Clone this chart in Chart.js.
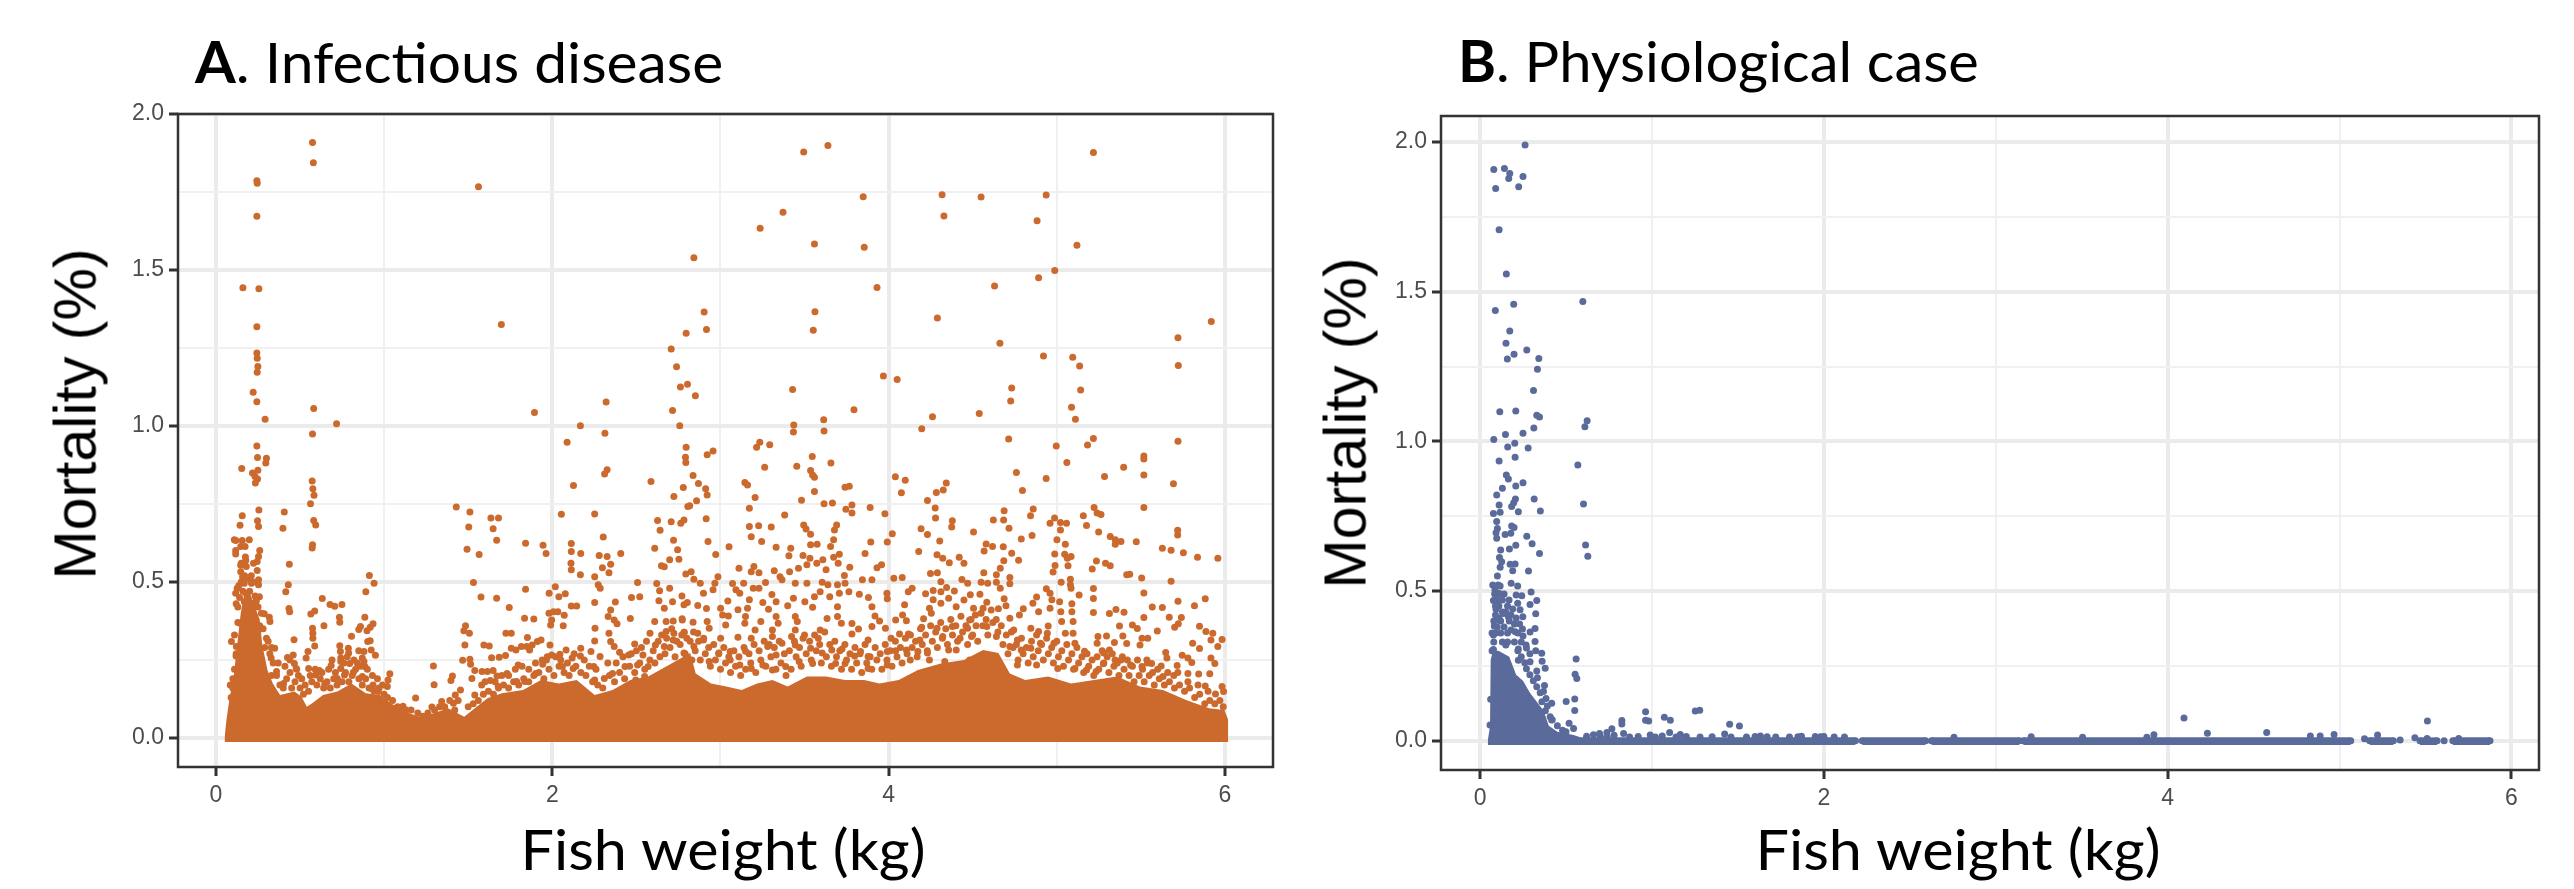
<!DOCTYPE html>
<html>
<head>
<meta charset="utf-8">
<title>Mortality vs fish weight</title>
<script src="https://cdn.jsdelivr.net/npm/chart.js@4"></script>
<style>
    html, body { margin: 0; padding: 0; background: #fff; }
    #page { position: relative; width: 2574px; height: 889px; overflow: hidden; }
    canvas { position: absolute; top: 0; }
    #chart-a { left: 0; }
    #chart-b { left: 1290px; }
    .panel-title, .x-title, .y-title { position: absolute; color: #000; white-space: nowrap; line-height: 1; }
    .panel-title { font-family: Lato, sans-serif; font-size: 57px; transform: scaleX(1.03); transform-origin: left center; }
    .x-title { font-family: Lato, sans-serif; font-size: 56px; transform: translateX(-50%) scaleX(1.06); }
    .y-title { font-family: "Liberation Sans", sans-serif; font-size: 59px; transform: translate(-50%, -50%) rotate(-90deg); }
</style>
</head>
<body>
<div id="page">
    <canvas id="chart-a" width="1290" height="889"></canvas>
    <canvas id="chart-b" width="1284" height="889"></canvas>
    <div class="panel-title" style="left:195px;top:33px"><b>A</b>. Infectious disease</div>
    <div class="panel-title" style="left:1458px;top:32px;transform:scaleX(1.015)"><b>B</b>. Physiological case</div>
    <div class="y-title" style="left:76px;top:414px">Mortality (%)</div>
    <div class="y-title" style="left:1346px;top:423px">Mortality (%)</div>
    <div class="x-title" style="left:723px;top:821px">Fish weight (kg)</div>
    <div class="x-title" style="left:1958px;top:821px">Fish weight (kg)</div>
</div>
<script>
const weightTicks = [0, 1, 2, 3, 4, 5, 6];
const weightLabels = [0, 2, 4, 6];
const mortalityTicks = [0, 0.25, 0.5, 0.75, 1, 1.25, 1.5, 1.75, 2];
const mortalityLabels = [0, 0.5, 1, 1.5, 2];

// solid part of panel A, where the dots merge: top edge read along the weight axis
const infectiousBandWeight = [0.051, 0.062, 0.079, 0.105, 0.126, 0.147, 0.168, 0.19, 0.211, 0.232, 0.26, 0.275, 0.306, 0.338, 0.381, 0.466, 0.508, 0.54, 0.572, 0.636, 0.721, 0.806, 0.891, 0.976, 1.04, 1.125, 1.21, 1.295, 1.38, 1.476, 1.55, 1.614, 1.7, 1.826, 1.933, 2.039, 2.145, 2.252, 2.358, 2.464, 2.57, 2.677, 2.82, 2.853, 2.944, 3.035, 3.126, 3.218, 3.309, 3.4, 3.514, 3.628, 3.741, 3.855, 3.946, 4.06, 4.174, 4.311, 4.448, 4.562, 4.653, 4.721, 4.812, 4.949, 5.085, 5.222, 5.359, 5.495, 5.632, 5.769, 5.906, 5.997, 6.02, 6.02];
const infectiousBandTop = [0, 0.058, 0.122, 0.197, 0.3, 0.4, 0.46, 0.48, 0.45, 0.42, 0.38, 0.3, 0.218, 0.175, 0.138, 0.149, 0.133, 0.1, 0.111, 0.138, 0.149, 0.175, 0.143, 0.138, 0.111, 0.084, 0.068, 0.079, 0.095, 0.068, 0.1, 0.127, 0.143, 0.154, 0.186, 0.175, 0.186, 0.138, 0.154, 0.186, 0.197, 0.229, 0.272, 0.207, 0.175, 0.165, 0.154, 0.175, 0.186, 0.165, 0.197, 0.197, 0.186, 0.186, 0.175, 0.186, 0.218, 0.239, 0.25, 0.282, 0.272, 0.207, 0.186, 0.197, 0.175, 0.186, 0.197, 0.165, 0.154, 0.122, 0.095, 0.09, 0.058, -0.006];

// solid part of panel B, null = gap in the baseline
const physiologicalBandWeight = [0.045, 0.058, 0.062, 0.075, 0.107, 0.17, 0.21, 0.25, 0.29, 0.33, 0.37, 0.4, 0.45, 0.544, 0.583, 1, 2.184, 2.2, 2.223, 2.592, 2.61, 2.626, 3.137, 3.15, 3.16, 5.065, 5.1, 5.175, 5.313, 5.33, 5.468, 5.567, 5.6, 5.659, 5.875];
const physiologicalBandTop = [0, 0.047, 0.27, 0.3, 0.3, 0.28, 0.22, 0.2, 0.16, 0.13, 0.1, 0.05, 0.03, 0.019, 0.011, 0.011, 0.011, null, 0.011, 0.011, null, 0.011, 0.011, null, 0.011, 0.011, null, 0.011, 0.011, null, 0.011, 0.011, null, 0.011, 0.011];

const infectiousPoints = [
    [0.574,1.909],[0.579,1.844],[0.243,1.786],[0.245,1.778],[0.243,1.672],[1.561,1.767],[0.16,1.443],[0.255,1.44],[0.243,1.318],[1.697,1.325],
    [0.243,1.234],[0.245,1.217],[0.249,1.191],[0.245,1.172],[0.221,1.108],[0.243,1.078],[0.581,1.056],[0.292,1.022],[1.894,1.043],[2.32,1.077],
    [2.715,1.05],[2.796,1.297],[2.707,1.247],[2.739,1.19],[2.762,1.125],[2.804,1.134],
    [3.495,1.878],[3.639,1.899],[5.218,1.877],[3.849,1.735],[3.372,1.685],[3.236,1.634],[3.559,1.583],[3.855,1.573],[2.842,1.539],[4.318,1.741],
    [4.55,1.734],[4.937,1.74],[4.329,1.673],[4.883,1.658],[5.12,1.579],[4.988,1.498],[4.892,1.475],[4.63,1.449],[3.931,1.444],[3.562,1.366],
    [2.903,1.365],[2.917,1.309],[3.552,1.307],[4.29,1.346],[5.919,1.335],[5.721,1.283],[4.662,1.265],[4.921,1.224],[5.095,1.22],[5.136,1.192],
    [5.723,1.194],[3.969,1.16],[4.051,1.149],[3.429,1.117],[4.732,1.122],[5.142,1.115],[2.851,1.097],[4.726,1.08],[5.088,1.06],[3.794,1.052],
    [4.539,1.04],[4.261,1.03],[3.614,1.02],[5.111,1.022],
    [0.717,1.007],[0.574,0.974],[0.243,0.936],[0.247,0.899],[0.3,0.897],[0.296,0.881],[0.153,0.864],[0.249,0.858],[0.217,0.849],[0.232,0.838],
    [0.247,0.83],[0.234,0.817],[0.572,0.824],[0.576,0.799],[0.583,0.778],[0.562,0.751],[0.255,0.731],[0.406,0.724],[0.156,0.712],[0.247,0.696],
    [0.143,0.682],[0.253,0.678],[0.398,0.672],[0.581,0.697],[0.593,0.683],[0.574,0.619],[0.572,0.609],[0.109,0.635],[0.118,0.633],[0.156,0.633],
    [0.198,0.635],[0.147,0.614],[0.173,0.614],[0.117,0.601],[0.117,0.59],[0.26,0.601],[0.253,0.582],[0.177,0.569],[0.223,0.56],[0.245,0.566],
    [0.436,0.557],[0.147,0.554],[0.147,0.533],[0.158,0.517],[0.168,0.496],[0.136,0.489],[0.211,0.496],[0.253,0.507],[0.253,0.491],[0.245,0.537],
    [0.43,0.491],[0.415,0.469],[0.117,0.464],[0.126,0.48],[0.179,0.464],[0.232,0.455],[0.258,0.453],[0.168,0.437],[0.221,0.432],[0.236,0.427],
    [0.434,0.415],[0.438,0.405],[0.287,0.398],[0.317,0.387],[0.321,0.373],[0.221,0.395],[0.189,0.379],[0.143,0.368],[0.253,0.346],[0.211,0.336],
    [0.092,0.309],[0.464,0.315],[0.349,0.288],[0.328,0.256],[0.121,0.293],[0.119,0.263],[0.425,0.258],[0.459,0.266],[0.466,0.239],[0.477,0.223],
    [0.36,0.213],[0.402,0.175],[0.912,0.521],[0.94,0.496],[0.891,0.469],[0.632,0.447],[0.678,0.428],[0.706,0.422],[0.749,0.428],[0.587,0.407],
    [0.564,0.397],[0.885,0.387],[0.734,0.387],[0.736,0.371],[0.642,0.36],[0.934,0.366],[0.917,0.355],[0.898,0.344],[0.859,0.357],[0.849,0.348],
    [0.574,0.352],[0.576,0.336],[0.576,0.32],[0.587,0.295],[0.806,0.326],[0.917,0.312],[0.902,0.309],[0.736,0.296],[0.787,0.288],[0.74,0.277],
    [0.789,0.272],[0.742,0.256],[0.849,0.28],[0.88,0.277],[0.923,0.282],[0.948,0.265],[0.87,0.256],[0.88,0.245],[0.885,0.229],[0.795,0.239],
    [0.742,0.245],[0.547,0.277],[0.536,0.256],[0.551,0.223],[0.685,0.232],[0.742,0.223],[0.615,0.216],[0.593,0.202],[0.817,0.211],[0.87,0.197],
    [0.764,0.202],[0.721,0.191],[0.647,0.175],[0.934,0.17],[0.923,0.159],[1.034,0.206],[1.023,0.186],[1.019,0.165],[0.965,0.149],[0.53,0.17],
    [1.293,0.231],[1.297,0.171],[1.187,0.128],[1.112,0.102],[1.284,0.099],[1.342,0.117],[1.406,0.199],[1.397,0.184],[1.454,0.154],[1.423,0.138],
    [1.412,0.111],[1.539,0.138],[1.429,0.74],[1.51,0.724],[1.503,0.676],[1.635,0.705],[1.68,0.705],[1.648,0.671],[1.669,0.634],[1.493,0.605],
    [1.565,0.588],[1.531,0.498],[1.576,0.452],[1.669,0.448],[1.744,0.418],[1.841,0.624],[1.945,0.618],[1.963,0.591],[1.841,0.477],[1.835,0.384],
    [1.89,0.381],[1.484,0.36],[1.474,0.344],[1.507,0.336],[1.48,0.298],[1.467,0.249],[1.51,0.252],[1.514,0.236],[1.539,0.216],[1.522,0.191],
    [1.582,0.213],[1.614,0.213],[1.648,0.216],[1.671,0.199],[1.631,0.184],[1.678,0.165],[1.724,0.336],[1.756,0.336],[1.852,0.322],[1.593,0.298],
    [1.625,0.295],[1.639,0.257],[1.684,0.259],[1.722,0.264],[1.756,0.288],[1.784,0.282],[1.816,0.293],[1.848,0.293],[1.865,0.282],[1.88,0.298],
    [1.911,0.309],[1.933,0.314],[1.797,0.234],[1.731,0.207],[1.788,0.181],[1.837,0.181],[1.901,0.207],[1.943,0.236],[1.981,0.464],[2.018,0.485],
    [2.039,0.453],[2.077,0.462],[2.113,0.423],[2.145,0.423],[2.167,0.523],[2.113,0.539],[2.111,0.56],[2.169,0.591],[2.113,0.598],[2.113,0.623],
    [2.054,0.717],[2.252,0.718],[2.303,0.644],[2.126,0.809],[2.088,0.948],[2.167,1.001],[2.313,0.977],[2.326,0.86],[2.311,0.846],[2.587,0.822],
    [2.779,0.803],[2.758,1.001],[2.796,0.932],[2.792,0.9],[2.794,0.883],[2.723,0.774],[2.806,0.742],[2.626,0.697],[2.707,0.693],[2.641,0.666],
    [2.764,0.688],[2.783,0.699],[2.721,0.634],[2.609,0.608],[2.745,0.603],[2.698,0.571],[2.753,0.573],[2.649,0.552],[2.666,0.549],[2.279,0.585],
    [2.326,0.582],[2.347,0.557],[2.298,0.546],[2.337,0.53],[2.407,0.591],[2.252,0.517],[2.273,0.491],[2.285,0.48],[2.252,0.434],[2.507,0.498],
    [2.621,0.495],[2.638,0.472],[2.698,0.48],[2.471,0.45],[2.52,0.453],[2.634,0.44],[2.375,0.436],[2.715,0.437],[2.783,0.427],[2.347,0.41],
    [2.666,0.416],[2.332,0.389],[2.368,0.378],[2.385,0.366],[2.464,0.383],[2.609,0.373],[2.677,0.373],[2.719,0.375],[2.772,0.382],[2.007,0.405],
    [2.033,0.405],[1.98,0.4],[2.071,0.393],[1.996,0.378],[1.99,0.362],[2.065,0.36],[2.254,0.352],[2.337,0.336],[1.986,0.298],[2.252,0.311],
    [2.347,0.309],[2.581,0.336],[2.677,0.341],[2.723,0.336],[2.783,0.339],[2.082,0.282],[2.169,0.288],[1.996,0.266],[1.965,0.25],[2.045,0.268],
    [2.118,0.256],[2.167,0.263],[2.23,0.277],[2.284,0.261],[2.368,0.293],[2.4,0.275],[2.454,0.266],[2.49,0.301],[2.539,0.266],[2.613,0.298],
    [2.666,0.293],[2.719,0.314],[2.783,0.272],[2.06,0.229],[2.124,0.223],[2.247,0.229],[2.252,0.186],[2.309,0.191],[2.358,0.207],[2.432,0.229],
    [2.507,0.234],[2.57,0.229],[2.496,0.186],[2.549,0.197],
    [3.436,1.003],[3.434,0.981],[3.616,0.984],[4.197,0.991],[4.714,0.958],[4.997,0.936],[5.183,0.939],[5.218,0.96],[5.721,0.951],[3.234,0.948],
    [3.215,0.932],[3.293,0.94],[2.956,0.92],[2.921,0.908],[5.518,0.904],[5.518,0.894],[3.546,0.902],[3.657,0.881],[5.06,0.883],[3.454,0.871],
    [3.263,0.868],[5.398,0.868],[3.536,0.857],[3.548,0.843],[3.559,0.836],[4.76,0.851],[5.518,0.843],[5.284,0.838],[2.837,0.841],[4.04,0.837],
    [4.099,0.826],[4.937,0.832],[3.145,0.819],[3.161,0.811],[4.343,0.817],[5.694,0.815],[2.869,0.816],[2.912,0.799],[2.921,0.779],[4.796,0.793],
    [4.325,0.795],[4.284,0.787],[4.076,0.786],[3.559,0.79],[3.741,0.804],[3.766,0.807],[3.206,0.771],[2.858,0.76],[3.482,0.762],[4.231,0.761],
    [2.817,0.744],[3.616,0.751],[3.666,0.753],[3.782,0.747],[3.172,0.736],[3.89,0.739],[3.746,0.733],[3.782,0.721],[3.978,0.719],[4.277,0.737],
    [4.687,0.728],[4.86,0.734],[5.518,0.739],[5.222,0.739],[5.24,0.721],[5.263,0.716],[3.382,0.715],[2.915,0.703],[4.279,0.705],[4.623,0.699],
    [4.844,0.712],[4.684,0.699],[4.987,0.705],[5.158,0.712],[4.379,0.696],[4.375,0.676],[3.172,0.678],[3.227,0.68],[3.302,0.676],[3.495,0.683],
    [3.509,0.67],[3.691,0.683],[3.678,0.667],[4.193,0.671],[4.716,0.672],[5.022,0.691],[5.022,0.667],[5.058,0.688],[4.96,0.688],[5.177,0.681],
    [5.719,0.666],[5.719,0.651],[5.249,0.66],[4.505,0.66],[4.022,0.655],[4.231,0.652],[3.183,0.645],[4.853,0.649],[4.789,0.638],[5.001,0.635],
    [3.536,0.653],[3.673,0.635],[2.926,0.63],[3.245,0.63],[4.304,0.631],[3.894,0.628],[3.992,0.628],[5.318,0.646],[5.348,0.635],[5.382,0.63],
    [5.473,0.629],[5.348,0.621],[3.575,0.621],[4.58,0.622],[4.618,0.614],[4.682,0.613],[5.051,0.621],[3.051,0.613],[3.331,0.611],[3.418,0.608],
    [3.655,0.614],[3.536,0.619],[5.628,0.608],[5.68,0.602],[5.753,0.594],[5.837,0.579],[5.958,0.576],[4.179,0.598],[4.568,0.599],[4.732,0.592],
    [4.988,0.59],[3.86,0.591],[2.972,0.588],[4.288,0.587],[5.047,0.589],[5.085,0.582],[3.407,0.584],[3.491,0.585],[3.532,0.576],[3.707,0.589],
    [3.673,0.579],[4.322,0.576],[4.42,0.579],[4.361,0.562],[4.448,0.56],[4.685,0.568],[4.773,0.57],[5.063,0.576],[5.236,0.567],[5.29,0.56],
    [5.318,0.552],[3.609,0.571],[3.573,0.56],[3.514,0.555],[3.7,0.56],[3.958,0.555],[3.931,0.546],[3.769,0.547],[3.11,0.544],[3.199,0.55],
    [3.464,0.544],[4.99,0.553],[5.067,0.552],[5.211,0.542],[4.978,0.532],[3.183,0.533],[3.229,0.53],[3.32,0.536],[3.411,0.533],[3.628,0.539],
    [4.566,0.53],[4.664,0.544],[2.826,0.533],[2.794,0.526],[4.249,0.527],[4.29,0.53],[4.641,0.523],[4.721,0.514],[5.416,0.523],[5.434,0.525],
    [5.505,0.513],[3.737,0.521],[3.354,0.517],[2.842,0.509],[2.985,0.517],[4.031,0.512],[4.081,0.514],[4.436,0.508],[3.844,0.507],[3.901,0.507],
    [4.311,0.501],[5.081,0.509],[5.68,0.502],[4.47,0.496],[4.55,0.499],[4.589,0.496],[4.641,0.499],[5.026,0.499],[5.081,0.491],[2.88,0.496],
    [3.072,0.495],[3.138,0.496],[3.268,0.498],[3.445,0.496],[3.605,0.499],[3.741,0.496],[2.967,0.496],[3.366,0.507],[3.514,0.496],[3.639,0.491],
    [3.696,0.491],[3.195,0.48],[3.092,0.475],[3.229,0.48],[4.664,0.48],[4.721,0.494],[5.218,0.479],[4.938,0.478],[4.14,0.48],[4.117,0.469],
    [4.265,0.473],[4.345,0.482],[4.311,0.469],[4.22,0.462],[5.085,0.48],[5.518,0.465],[2.899,0.464],[2.956,0.475],[3.115,0.464],[3.306,0.46],
    [3.434,0.448],[3.559,0.453],[3.593,0.469],[3.65,0.453],[3.707,0.464],[3.764,0.469],[3.826,0.461],[3.88,0.45],[3.99,0.464],[3.992,0.446],
    [4.486,0.459],[4.543,0.461],[4.391,0.471],[4.357,0.448],[4.265,0.443],[4.448,0.442],[4.687,0.446],[4.88,0.452],[4.96,0.464],[4.971,0.443],
    [5.133,0.458],[5.218,0.447],[2.771,0.455],[2.803,0.434],[3.044,0.439],[3.172,0.443],[3.252,0.434],[3.331,0.437],[3.502,0.437],[3.696,0.421],
    [2.865,0.425],[2.917,0.415],[3.001,0.416],[3.104,0.411],[3.161,0.416],[3.286,0.413],[3.4,0.424],[3.548,0.419],[3.901,0.421],[4.095,0.427],
    [4.311,0.432],[4.584,0.435],[4.698,0.424],[4.402,0.421],[4.505,0.416],[4.562,0.416],[4.243,0.416],[4.801,0.414],[4.858,0.432],[5.017,0.437],
    [5.09,0.43],[5.352,0.412],[5.4,0.403],[5.313,0.399],[5.218,0.402],[5.568,0.42],[5.628,0.418],[5.721,0.438],[5.819,0.424],[5.883,0.446],
    [4.892,0.405],[4.96,0.416],[5.024,0.405],[5.09,0.405],[4.653,0.414],[4.778,0.394],[4.254,0.4],[4.516,0.394],[4.083,0.394],[3.047,0.391],
    [3.013,0.394],[3.149,0.389],[3.331,0.389],[3.445,0.389],[3.634,0.383],[3.696,0.389],[3.919,0.391],[2.837,0.371],[2.773,0.378],[2.921,0.373],
    [3.145,0.368],[3.24,0.373],[3.343,0.368],[3.457,0.373],[3.719,0.368],[3.946,0.375],[4.042,0.378],[4.106,0.376],[4.208,0.382],[4.482,0.378],
    [4.721,0.384],[5.029,0.373],[5.097,0.373],[5.518,0.386],[5.669,0.387],[5.741,0.386],[3.031,0.362],[3.782,0.367],[5.45,0.362],[5.373,0.359],
    [5.723,0.366],[5.701,0.355],[5.849,0.358],[5.479,0.351],[5.598,0.343],[5.887,0.341],[5.928,0.336],[2.933,0.352],[3.309,0.346],[3.445,0.346],
    [3.593,0.346],[3.821,0.349],[3.782,0.333],[3.901,0.357],[3.981,0.352],[4.197,0.355],[4.288,0.352],[4.379,0.357],[4.47,0.352],[4.584,0.357],
    [4.744,0.346],[4.846,0.352],[4.949,0.359],[4.892,0.341],[5.051,0.336],[5.097,0.336],[2.785,0.339],[2.865,0.336],[3.206,0.346],[3.104,0.323],
    [3.183,0.32],[2.899,0.314],[3.001,0.32],[3.309,0.325],[3.423,0.325],[3.491,0.32],[3.582,0.32],[3.878,0.314],[4.015,0.32],[4.065,0.333],
    [4.118,0.333],[4.186,0.314],[4.322,0.325],[4.425,0.32],[4.493,0.325],[4.641,0.325],[4.766,0.314],[4.944,0.336],[5.245,0.325],[5.296,0.327],
    [5.393,0.327],[5.507,0.32],[5.541,0.32],[5.917,0.314],[5.983,0.316],[3.281,0.293],[3.366,0.304],[3.445,0.298],[2.842,0.293],[5.24,0.304],
    [5.343,0.306],[5.416,0.303],[5.495,0.298],[5.808,0.304],[5.958,0.293],[5.108,0.304],[4.903,0.304],[4.983,0.304],[4.721,0.293],[3.149,0.278],
    [3.331,0.266],[3.536,0.288],[3.662,0.282],[3.723,0.285],[3.833,0.277],[3.798,0.263],[3.878,0.261],[3.992,0.277],[4.042,0.28],[4.106,0.282],
    [4.174,0.277],[4.231,0.272],[4.357,0.282],[4.402,0.282],[4.789,0.282],[4.846,0.288],[5.165,0.278],[5.313,0.282],[5.279,0.272],[5.849,0.287],
    [5.648,0.274],[3.058,0.277],[2.99,0.272],[5.347,0.25],[5.382,0.25],[5.655,0.256],[5.746,0.265],[5.78,0.256],[5.277,0.238],[5.917,0.256],
    [5.94,0.239],[5.536,0.25],[5.507,0.229],[5.439,0.234],[5.564,0.239],[5.621,0.231],[5.716,0.232],[5.803,0.242],[5.844,0.205],[5.91,0.206],
    [5.78,0.207],[5.696,0.2],[5.632,0.197],[5.883,0.167],[5.983,0.165],[5.992,0.149],[5.944,0.141],
    [2.83,0.25],[2.933,0.245],[3.058,0.25],[3.115,0.234],[3.183,0.223],[3.252,0.234],[3.309,0.218],[3.388,0.229],[3.468,0.245],[3.548,0.239],
    [3.605,0.272],[3.685,0.239],[3.741,0.239],[3.878,0.223],[3.992,0.234],[4.129,0.25],[4.243,0.25],[4.334,0.245],[4.482,0.25],[4.619,0.239],
    [4.766,0.234],[4.88,0.234],[5.006,0.223],[5.108,0.223],[5.177,0.218],[5.234,0.213]
];

// dots crowding just above the solid part of panel A
const infectiousEdgePoints = [
    [0.13,0.42],[0.14,0.45],[0.15,0.5],[0.16,0.47],[0.17,0.52],[0.18,0.55],[0.15,0.56],[0.19,0.44],[0.2,0.47],[0.21,0.52],[0.22,0.5],[0.19,0.51],
    [0.175,0.58],[0.16,0.56],[0.24,0.44],[0.25,0.42],[0.27,0.4],[0.26,0.36],[0.28,0.35],[0.3,0.32],[0.12,0.43],[0.11,0.33],[0.13,0.37],[0.29,0.29],
    [0.31,0.31],[0.32,0.27],[0.34,0.24],[0.33,0.2],[0.36,0.2],[0.38,0.17],[0.12,0.27],[0.11,0.22],[0.1,0.19],[0.1,0.16],[0.09,0.13],[0.085,0.17],
    [0.4,0.16],[0.42,0.19],[0.44,0.21],[0.45,0.16],[0.47,0.18],[0.49,0.2],[0.5,0.16],[0.52,0.14],[0.55,0.15],[0.57,0.18],[0.6,0.17],[0.62,0.19],
    [0.64,0.16],[0.66,0.18],[0.68,0.16],[0.7,0.19],[0.72,0.17],[0.75,0.18],[0.77,0.21],[0.79,0.18],[0.81,0.2],[0.83,0.22],[0.85,0.19],[0.87,0.17],
    [0.89,0.19],[0.91,0.16],[0.94,0.15],[0.97,0.16],[1,0.14],[1.02,0.13],[1.05,0.12],[1.08,0.1],[1.1,0.09],[1.13,0.09],[1.16,0.09],[1.2,0.08],
    [1.23,0.07],[1.26,0.08],[1.3,0.09],[1.33,0.1],[1.36,0.1],[1.39,0.12],[1.42,0.09],[1.5,0.1],[1.53,0.11],[1.56,0.12],[1.59,0.14],[1.62,0.15],
    [1.65,0.14],[1.68,0.16],[1.71,0.17],[1.74,0.16],[1.77,0.18],[1.8,0.17],[1.83,0.19],[1.86,0.18],[1.89,0.2],[1.92,0.21],[1.95,0.19],[1.98,0.22],
    [2.01,0.2],[2.04,0.23],[2.07,0.21],[2.1,0.2],[2.14,0.23],[2.17,0.21],[2.2,0.2],[2.24,0.18],[2.27,0.17],[2.3,0.16],[2.34,0.2],[2.37,0.18],
    [2.4,0.21],[2.43,0.19],[2.46,0.23],[2.49,0.21],[2.52,0.24],[2.55,0.22],[2.58,0.25],[2.61,0.24],[2.64,0.26],[2.67,0.27],[2.7,0.29],[2.73,0.26],
    [2.76,0.3],[2.79,0.27],[2.82,0.31],[2.85,0.28],[2.88,0.25],[2.91,0.27],[2.94,0.23],[2.97,0.25],[3,0.22],[3.03,0.24],[3.06,0.21],[3.09,0.23],
    [3.12,0.2],[3.15,0.22],[3.18,0.24],[3.21,0.21],[3.24,0.25],[3.27,0.23],[3.3,0.26],[3.33,0.22],[3.36,0.24],[3.39,0.2],[3.42,0.22],[3.45,0.26],
    [3.48,0.23],[3.51,0.27],[3.54,0.25],[3.57,0.28],[3.6,0.24],[3.63,0.26],[3.66,0.23],[3.69,0.26],[3.72,0.22],[3.75,0.25],[3.78,0.22],[3.81,0.24],
    [3.84,0.21],[3.87,0.24],[3.9,0.22],[3.93,0.25],[3.96,0.22],[3.99,0.25],[4.02,0.23],[4.05,0.26],[4.08,0.24],[4.11,0.27],[4.14,0.29],[4.17,0.26],
    [4.2,0.3],[4.23,0.28],[4.26,0.31],[4.29,0.29],[4.32,0.32],[4.35,0.3],[4.38,0.33],[4.41,0.31],[4.44,0.34],[4.47,0.3],[4.5,0.33],[4.53,0.31],
    [4.56,0.36],[4.59,0.33],[4.62,0.37],[4.65,0.34],[4.68,0.3],[4.71,0.27],[4.74,0.29],[4.77,0.25],[4.8,0.27],[4.83,0.24],[4.86,0.26],[4.89,0.28],
    [4.92,0.25],[4.95,0.27],[4.98,0.24],[5.01,0.26],[5.04,0.23],[5.07,0.25],[5.1,0.22],[5.13,0.24],[5.16,0.21],[5.19,0.23],[5.22,0.2],[5.25,0.22],
    [5.28,0.24],[5.31,0.21],[5.34,0.23],[5.37,0.2],[5.4,0.22],[5.43,0.2],[5.46,0.18],[5.49,0.2],[5.52,0.18],[5.55,0.2],[5.58,0.17],[5.61,0.19],
    [5.64,0.17],[5.67,0.18],[5.7,0.16],[5.73,0.17],[5.76,0.15],[5.79,0.16],[5.82,0.13],[5.85,0.14],[5.88,0.11],[5.91,0.12],[5.94,0.11],[5.97,0.12],[5.99,0.1],
    [0.33,0.29],[0.37,0.24],[0.41,0.23],[0.44,0.25],[0.48,0.22],[0.51,0.19],[0.56,0.2],[0.59,0.22],[0.63,0.21],[0.67,0.22],[0.69,0.25],[0.71,0.21],
    [0.76,0.24],[0.78,0.26],[0.82,0.25],[0.84,0.24],[0.86,0.23],[0.9,0.22],[0.93,0.2],[0.96,0.19],[0.99,0.17],[1.44,0.12],[1.58,0.17],[1.6,0.18],
    [1.66,0.18],[1.7,0.2],[1.74,0.2],[1.78,0.22],[1.82,0.23],[1.86,0.22],[1.9,0.24],[1.94,0.25],[1.97,0.26],[2.02,0.26],[2.05,0.25],[2.09,0.24],
    [2.13,0.27],[2.19,0.25],[2.22,0.23],[2.26,0.22],[2.33,0.24],[2.38,0.24],[2.42,0.26],[2.47,0.27],[2.5,0.28],[2.53,0.29],[2.56,0.31],[2.6,0.28],
    [2.63,0.31],[2.65,0.33],[2.68,0.32],[2.71,0.35],[2.74,0.31],[2.77,0.33],[2.8,0.32],[2.84,0.34],[2.87,0.31],[2.9,0.32],[2.93,0.29],[2.96,0.3],
    [2.99,0.27],[3.02,0.29],[3.05,0.26],[3.08,0.28],[3.11,0.26],[3.14,0.29],[3.17,0.27],[3.2,0.3],[3.23,0.28],[3.26,0.31],[3.29,0.3],[3.32,0.29],
    [3.35,0.31],[3.38,0.27],[3.41,0.28],[3.44,0.31],[3.47,0.29],[3.5,0.33],[3.53,0.31],[3.56,0.33],[3.59,0.3],[3.62,0.34],[3.65,0.3],[3.68,0.31],
    [3.71,0.28],[3.74,0.3],[3.77,0.27],[3.8,0.29],[3.83,0.27],[3.86,0.3],[3.89,0.26],[3.92,0.29],[3.95,0.27],[3.98,0.3],[4.01,0.28],[4.04,0.31],
    [4.07,0.29],[4.1,0.32],[4.13,0.33],[4.16,0.31],[4.19,0.35],[4.22,0.33],[4.25,0.36],[4.28,0.34],[4.31,0.37],[4.34,0.35],[4.37,0.38],[4.4,0.36],
    [4.43,0.39],[4.46,0.36],[4.49,0.38],[4.52,0.36],[4.55,0.4],[4.58,0.38],[4.61,0.41],[4.64,0.38],[4.67,0.36],[4.7,0.33],[4.73,0.34],[4.76,0.3],
    [4.79,0.32],[4.82,0.29],[4.85,0.31],[4.88,0.33],[4.91,0.3],[4.94,0.32],[4.97,0.29],[5,0.31],[5.03,0.28],[5.06,0.3],[5.09,0.27],[5.12,0.29],
    [5.15,0.26],[5.18,0.27],[5.21,0.25],[5.24,0.26],[5.27,0.28],[5.3,0.26],[5.33,0.27],[5.36,0.24],[5.39,0.26],[5.42,0.25],[5.45,0.23],[5.48,0.25],
    [5.51,0.22],[5.54,0.24],[5.57,0.21],[5.6,0.22],[5.66,0.21],[5.72,0.21],[5.78,0.18],[5.84,0.17],[5.9,0.15]
];

const physiologicalPoints = [
    [0.262,1.99],[0.08,1.908],[0.142,1.912],[0.173,1.895],[0.167,1.878],[0.25,1.885],[0.091,1.845],[0.225,1.851],[0.111,1.707],[0.153,1.559],
    [0.598,1.467],[0.196,1.458],[0.089,1.437],[0.173,1.369],[0.151,1.328],[0.272,1.305],[0.198,1.291],[0.159,1.275],[0.342,1.277],[0.334,1.241],
    [0.311,1.17],[0.115,1.099],[0.208,1.101],[0.33,1.087],[0.346,1.081],[0.623,1.069],[0.61,1.049],[0.313,1.045],[0.25,1.027],[0.148,1.023],
    [0.08,1.006],[0.202,0.994],[0.161,0.981],[0.28,0.978],[0.204,0.947],[0.111,0.934],
    [0.569,0.921],[0.153,0.888],[0.165,0.874],[0.25,0.862],[0.208,0.851],[0.13,0.843],[0.097,0.821],[0.315,0.807],[0.206,0.807],[0.196,0.795],
    [0.111,0.787],[0.602,0.791],[0.184,0.782],[0.223,0.765],[0.351,0.767],[0.078,0.759],[0.117,0.763],[0.097,0.732],[0.101,0.709],[0.184,0.717],
    [0.198,0.712],[0.093,0.695],[0.146,0.689],[0.179,0.693],[0.272,0.683],[0.097,0.676],[0.303,0.658],[0.614,0.654],[0.208,0.653],[0.12,0.637],
    [0.171,0.64],[0.346,0.625],[0.627,0.616],[0.113,0.612],[0.126,0.598],[0.175,0.589],[0.204,0.59],[0.117,0.579],[0.19,0.568],[0.282,0.567],
    [0.101,0.55],[0.074,0.52],[0.117,0.517],[0.181,0.526],[0.219,0.517],[0.087,0.503],[0.109,0.492],[0.297,0.497],[0.21,0.487],[0.243,0.484],
    [0.078,0.468],[0.169,0.47],[0.33,0.468],[0.219,0.459],[0.291,0.455],[0.093,0.439],[0.233,0.437],[0.324,0.424],[0.136,0.425],[0.249,0.414],
    [0.165,0.414],[0.107,0.403],[0.083,0.383],[0.32,0.375],[0.247,0.373],[0.291,0.363],[0.205,0.364],[0.078,0.353],[0.32,0.331],[0.268,0.32],
    [0.223,0.306],[0.078,0.305],[0.324,0.3],[0.359,0.292],[0.559,0.273],[0.361,0.265],[0.223,0.269],[0.291,0.264],[0.379,0.242],[0.33,0.233],
    [0.553,0.222],[0.563,0.208],[0.334,0.21],[0.375,0.184],[0.369,0.164],[0.501,0.131],[0.551,0.139],[0.551,0.101],[0.384,0.141],[0.417,0.125],
    [0.392,0.116],[0.963,0.097],[1.072,0.078],[1.107,0.068],[0.963,0.068],[0.981,0.066],[1.252,0.099],[1.278,0.102],[0.825,0.067],[0.825,0.056],
    [0.408,0.08],[0.417,0.069],[0.518,0.058],[0.544,0.041],[1.452,0.055],[1.509,0.049],[1.423,0.022],[0.767,0.04],[0.738,0.027],[0.695,0.024],
    [0.835,0.024],[0.99,0.019],[1.103,0.027],[1.165,0.021],[1.631,0.016],[1.849,0.013],[1.981,0.013],[0.058,0.052],[0.062,0.138],
    [4.095,0.076],[5.511,0.066],[3.92,0.02],[4.231,0.025],[4.576,0.027],[4.968,0.021],[5.221,0.019],[3.206,0.013],[3.879,0.011],[4.83,0.016],
    [4.887,0.016],[5.438,0.01],[5.145,0.006],[5.352,0.002],[5.608,0],[5.693,0.007],[5.509,0.007],[2.757,0.011],[3.505,0.011]
];

// dots crowding above the solid part of panel B, and the bumps along its baseline
const physiologicalEdgePoints = [
    [0.07,0.3],[0.08,0.33],[0.09,0.36],[0.1,0.38],[0.12,0.4],[0.14,0.38],[0.16,0.36],[0.18,0.37],[0.2,0.33],[0.22,0.3],[0.24,0.28],[0.26,0.26],
    [0.27,0.24],[0.29,0.22],[0.31,0.2],[0.33,0.18],[0.35,0.16],[0.36,0.13],[0.38,0.1],[0.42,0.07],[0.45,0.05],[0.48,0.035],[0.5,0.03],[0.09,0.42],
    [0.11,0.45],[0.13,0.47],[0.15,0.43],[0.17,0.4],[0.19,0.44],[0.21,0.41],[0.23,0.39],[0.25,0.35],[0.27,0.31],[0.29,0.29],[0.13,0.33],[0.15,0.32],
    [0.1,0.47],[0.12,0.49],[0.07,0.36],[0.08,0.4],[0.09,0.45],[0.11,0.41],[0.13,0.43],[0.14,0.49],[0.16,0.45],[0.18,0.42],[0.2,0.39],[0.22,0.36],
    [0.24,0.33],[0.12,0.36],[0.16,0.33],[0.085,0.49],[0.105,0.52],
    [0.62,0.015],[0.66,0.02],[0.7,0.014],[0.74,0.012],[0.78,0.018],[0.87,0.012],[0.92,0.014],[1.02,0.012],[1.06,0.016],[1.14,0.012],[1.2,0.014],
    [1.28,0.012],[1.35,0.013],[1.46,0.012],[1.55,0.012],[1.6,0.014],[1.67,0.013],[1.72,0.012],[1.8,0.012],[1.87,0.015],[1.95,0.014],[2,0.014],[2.06,0.012],[2.12,0.012],
    [2.184,0],[2.223,0],[2.592,0],[2.626,0],[3.137,0],[3.16,0],[5.065,0],[5.175,0],[5.313,0],[5.468,0],[5.567,0],[5.659,0],[5.875,0]
];

const infectiousColor = '#cc692d';
const physiologicalColor = '#5a6b9b';

const toPoints = (xs, ys) => xs.map((x, i) => ({ x, y: ys[i] }));

// dark panel border on top of the dots
const panelBorder = {
    id: 'panelBorder',
    afterDatasetsDraw(chart) {
        const { ctx, chartArea: a } = chart;
        ctx.save();
        ctx.strokeStyle = '#333333';
        ctx.lineWidth = 2.5;
        ctx.strokeRect(a.left, a.top, a.right - a.left, a.bottom - a.top);
        ctx.restore();
    }
};

function axisOptions(cfg) {
    const isMajor = v => cfg.labels.includes(v);
    return {
        type: 'linear',
        min: cfg.min,
        max: cfg.max,
        afterBuildTicks(axis) { axis.ticks = cfg.ticks.map(value => ({ value })); },
        afterFit(axis) { axis[cfg.sizeKey] = cfg.size; },
        border: { display: false },
        grid: {
            color: ctx => (isMajor(ctx.tick.value) ? '#ebebeb' : '#f0f0f0'),
            lineWidth: ctx => (isMajor(ctx.tick.value) ? 4 : 2),
            tickColor: '#333333',
            tickWidth: ctx => (isMajor(ctx.tick.value) ? 3 : 0),
            tickLength: 9
        },
        ticks: {
            autoSkip: false,
            maxRotation: 0,
            padding: cfg.padding,
            color: '#4d4d4d',
            font: { family: '"Liberation Sans", sans-serif', size: 23 },
            callback: v => (isMajor(v) ? v.toFixed(cfg.decimals) : '')
        }
    };
}

function drawPanel(id, cfg) {
    new Chart(document.getElementById(id), {
        type: 'scatter',
        data: {
            datasets: [
                {
                    type: 'line',
                    data: toPoints(cfg.bandX, cfg.bandY),
                    borderWidth: 0,
                    pointRadius: 0,
                    tension: 0,
                    spanGaps: false,
                    backgroundColor: cfg.color,
                    fill: { value: cfg.bandFloor }
                },
                {
                    data: cfg.points.map(([x, y]) => ({ x, y })),
                    backgroundColor: cfg.color,
                    borderWidth: 0,
                    pointRadius: 3.5
                }
            ]
        },
        options: {
            responsive: false,
            animation: false,
            layout: { padding: cfg.padding },
            plugins: { legend: { display: false }, tooltip: { enabled: false } },
            scales: {
                x: axisOptions({ min: cfg.xMin, max: cfg.xMax, ticks: weightTicks, labels: weightLabels, decimals: 0, sizeKey: 'height', size: cfg.xAxisSize, padding: 6 }),
                y: axisOptions({ min: cfg.yMin, max: cfg.yMax, ticks: mortalityTicks, labels: mortalityLabels, decimals: 1, sizeKey: 'width', size: cfg.yAxisSize, padding: 5 })
            }
        },
        plugins: [panelBorder]
    });
}

drawPanel('chart-a', {
    points: infectiousPoints.concat(infectiousEdgePoints),
    bandX: infectiousBandWeight,
    bandY: infectiousBandTop,
    bandFloor: -0.013,
    color: infectiousColor,
    xMin: -0.226, xMax: 6.286, yMin: -0.093, yMax: 2,
    padding: { top: 114, right: 17, left: 0, bottom: 0 },
    xAxisSize: 122, yAxisSize: 178
});

drawPanel('chart-b', {
    points: physiologicalPoints.concat(physiologicalEdgePoints),
    bandX: physiologicalBandWeight,
    bandY: physiologicalBandTop,
    bandFloor: -0.0145,
    color: physiologicalColor,
    xMin: -0.227, xMax: 6.16, yMin: -0.098, yMax: 2.087,
    padding: { top: 116, right: 35, left: 0, bottom: 0 },
    xAxisSize: 119, yAxisSize: 151
});
</script>
</body>
</html>
